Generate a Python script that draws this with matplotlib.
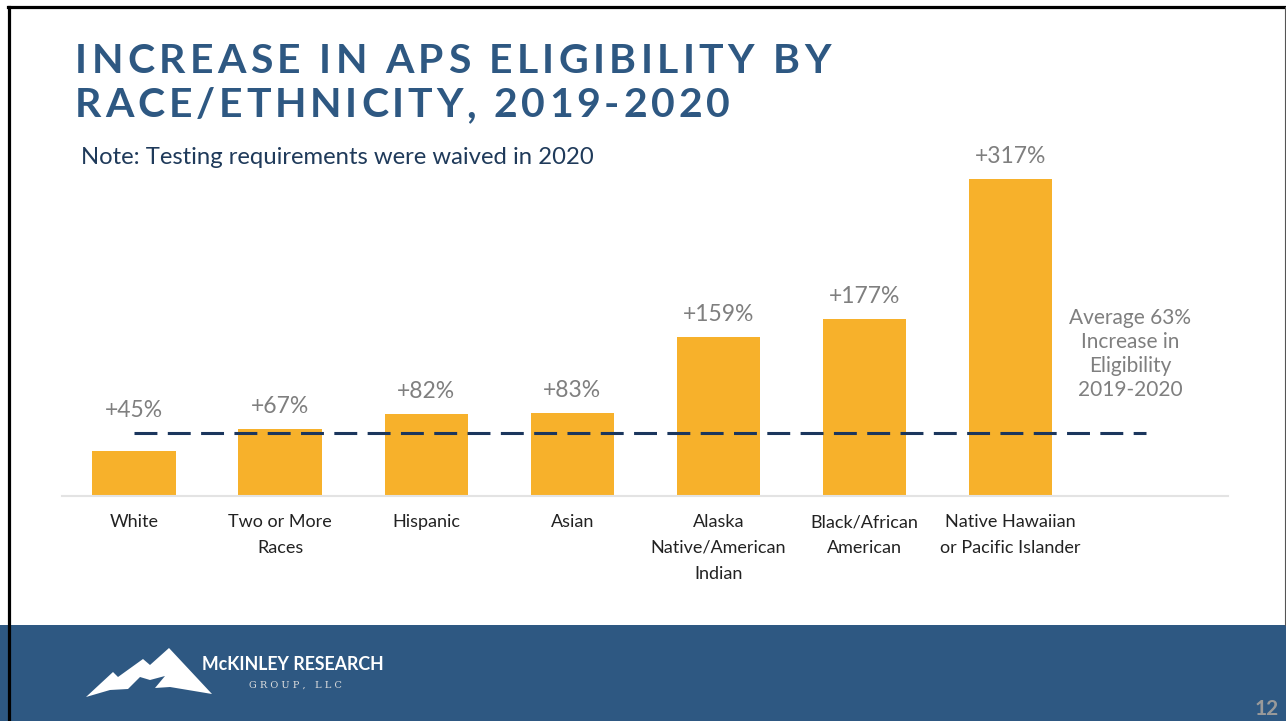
import matplotlib
matplotlib.use("Agg")
import matplotlib.pyplot as plt
from matplotlib.patches import Rectangle, Polygon
from matplotlib.lines import Line2D
from matplotlib.font_manager import FontProperties

# data
categories = ["White", "Two or More\nRaces", "Hispanic", "Asian",
              "Alaska\nNative/American\nIndian", "Black/African\nAmerican",
              "Native Hawaiian\nor Pacific Islander"]
increase = [45, 67, 82, 83, 159, 177, 317]
labels = ["+45%", "+67%", "+82%", "+83%", "+159%", "+177%", "+317%"]
average = 63

NAVY = "#2e5882"
BAR = "#f7b12b"
GRAY = "#7f7f7f"
FONT = "Lato"

W, H = 1286, 721
fig = plt.figure(figsize=(W / 100, H / 100), dpi=100)
fig.patch.set_facecolor("white")
renderer = fig.canvas.get_renderer()


def fx(px):
    return px / W


def fy(py):
    return 1 - py / H


def spaced_text(x, y, s, track, **kw):
    # draw text char by char with extra letter spacing (pixels)
    prop = FontProperties(family=kw.get("family"), weight=kw.get("fontweight"),
                          size=kw.get("fontsize"))
    for ch in s:
        fig.text(fx(x), fy(y), ch, ha="left", va="baseline", **kw)
        w, _, _ = renderer.get_text_width_height_descent(ch, prop, ismath=False)
        x += w + track


# footer band
fig.patches.append(Rectangle((0, 0), 1, fy(625), transform=fig.transFigure,
                             facecolor=NAVY, edgecolor="none", zorder=0))

# slide border
fig.add_artist(Line2D([fx(8), 1], [fy(7), fy(7)], color="black", lw=2.3))
fig.add_artist(Line2D([fx(9), fx(9)], [0, fy(7)], color="black", lw=2.3))
fig.add_artist(Line2D([fx(1284.5), fx(1284.5)], [fy(625), fy(7)], color="#555555", lw=0.8))

# title + note
title_kw = dict(family=FONT, fontweight="bold", fontsize=29.5, color=NAVY)
spaced_text(75, 73, "INCREASE IN APS ELIGIBILITY BY", 4.3, **title_kw)
spaced_text(75, 117, "RACE/ETHNICITY, 2019-2020", 3.8, **title_kw)
fig.text(fx(81), fy(157), "Note: Testing requirements were waived in 2020", family=FONT,
         fontsize=17.2, color="#1f3a5a", ha="left", va="center")

# chart
ax_top, ax_bot = 140, 496
ax = fig.add_axes([fx(62), fy(ax_bot), fx(1228 - 62), (ax_bot - ax_top) / H])
xs = list(range(len(categories)))
ax.bar(xs, increase, width=0.57, color=BAR, zorder=2)
ax.set_xlim(-0.493, 7.49)
ax.set_ylim(0, ax_bot - ax_top)
ax.plot([0, 6.93], [average, average], color="#1b365d", lw=2.2,
        dashes=(7.5, 3.4), zorder=3)

for i, (v, lab) in enumerate(zip(increase, labels)):
    off = 29 if i == 0 else 16.5
    ax.annotate(lab, (i, v), xytext=(0, off), textcoords="offset points",
                ha="center", va="center", family=FONT, fontsize=16.5,
                color=GRAY, annotation_clip=False)

ax.text(6.82, 142, "Average 63%\nIncrease in\nEligibility\n2019-2020",
        ha="center", va="center", family=FONT, fontsize=15, color=GRAY,
        linespacing=1.25)

ax.set_xticks(xs)
ax.set_xticklabels(categories, family=FONT, fontsize=13, color="#222222",
                   linespacing=1.75, va="top")
ax.tick_params(axis="x", length=0, pad=13)
ax.set_yticks([])
for s in ["top", "right", "left"]:
    ax.spines[s].set_visible(False)
ax.spines["bottom"].set_color("#e3e3e3")
ax.spines["bottom"].set_linewidth(1.5)
ax.patch.set_alpha(0)

# logo
mountain = [(86, 697), (113, 672), (118, 677), (143, 659), (150, 665),
            (169, 648), (212, 694), (170, 687), (155, 688), (165, 676),
            (150, 680), (140, 677), (128, 689), (110, 690)]
fig.patches.append(Polygon([(fx(a), fy(b)) for a, b in mountain],
                           closed=True, transform=fig.transFigure,
                           facecolor="white", edgecolor="none", zorder=1))
fig.text(fx(202), fy(665), "McKINLEY RESEARCH", family=FONT, fontweight="bold",
         fontsize=12.8, color="white", ha="left", va="center")
fig.text(fx(295), fy(685), "G R O U P ,   L L C", family="DejaVu Serif",
         fontsize=7, color="#dddddd", ha="center", va="center")
fig.text(fx(1267), fy(719), "12", family=FONT, fontweight="bold", fontsize=15,
         color="#9a9a9a", ha="center", va="bottom")

fig.savefig("out.png", dpi=100)
